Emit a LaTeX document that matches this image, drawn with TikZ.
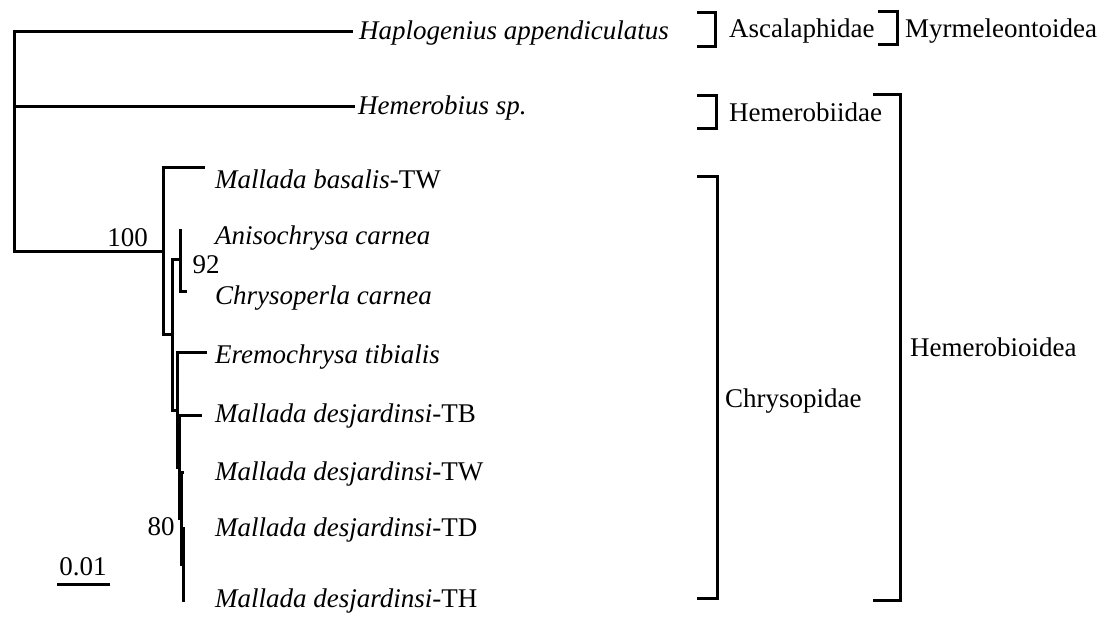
\documentclass[tikz,border=0pt]{standalone}
\usepackage{fontspec}
\setmainfont{Liberation Serif}
\begin{document}
\begin{tikzpicture}[x=1pt,y=-1pt,
  edge/.style={line width=3pt},
  brk/.style={line width=3pt},
  taxon/.style={anchor=west,inner sep=0pt,font=\fontsize{27}{31}\selectfont\itshape},
  grp/.style={anchor=west,inner sep=0pt,font=\fontsize{27}{31}\selectfont},
  supp/.style={inner sep=0pt,font=\fontsize{27}{31}\selectfont}]
\useasboundingbox[fill=white] (0,0) rectangle (1105,617);
% tree coordinates
\coordinate (root) at (14,142);
\coordinate (hap) at (353,32);
\coordinate (hem) at (355,107);
\coordinate (A) at (163.3,252);
\coordinate (bas) at (205,168);
\coordinate (C) at (172.7,335);
\coordinate (N92) at (180.7,260);
\coordinate (ani) at (180.7,229);
\coordinate (chr) at (187,292);
\coordinate (D) at (177.3,410);
\coordinate (ere) at (206.7,352.7);
\coordinate (E) at (179,467);
\coordinate (tb) at (202,415);
\coordinate (F) at (181.2,518);
\coordinate (tw) at (184,472);
\coordinate (G) at (183.5,564);
\coordinate (td) at (185,528);
\coordinate (th) at (185,600);
% edges
\draw[edge] (root) |- (hap);
\draw[edge] (root) |- (hem);
\draw[edge] (root) |- (A);
\draw[edge] (A) |- (bas);
\draw[edge] (A) |- (C);
\draw[edge] (C) |- (N92);
\draw[edge] (C) |- (D);
\draw[edge] (N92) |- (ani);
\draw[edge] (N92) |- (chr);
\draw[edge] (D) |- (ere);
\draw[edge] (D) |- (E);
\draw[edge] (E) |- (tb);
\draw[edge] (E) |- (F);
\draw[edge] (F) |- (tw);
\draw[edge] (F) |- (G);
\draw[edge] (G) |- (td);
\draw[edge] (G) |- (th);
% support values
\node[supp,anchor=east] (s100) at (148,238) {100};
\node[supp] (s92) at (206,265) {92};
\node[supp] (s80) at (161,527) {80};
% taxa
\node[taxon] (lhap) at (359,33) {Haplogenius appendiculatus};
\node[taxon] (lhem) at (358,108) {Hemerobius sp.};
\node[taxon] (lbas) at (215,179) {Mallada basalis\upshape-TW};
\node[taxon] (lani) at (215,238) {Anisochrysa carnea};
\node[taxon] (lchr) at (215,298) {Chrysoperla carnea};
\node[taxon] (lere) at (215,357) {Eremochrysa tibialis};
\node[taxon] (ltb) at (215,416) {Mallada desjardinsi\upshape-TB};
\node[taxon] (ltw) at (215,474) {Mallada desjardinsi\upshape-TW};
\node[taxon] (ltd) at (215,530) {Mallada desjardinsi\upshape-TD};
\node[taxon] (lth) at (215,601) {Mallada desjardinsi\upshape-TH};
% scale bar
\coordinate (sb1) at (57,584);
\coordinate (sb2) at (110,584);
\draw[brk] (sb1) -- (sb2);
\node[supp] (sbl) at (83,567) {0.01};
% group brackets
\draw[brk] (697,13) -- (715,13) -- (715,47) -- (697,47);
\node[grp] (asc) at (729,31) {Ascalaphidae};
\draw[brk] (878,12) -- (897,12) -- (897,45) -- (878,45);
\node[grp] (myr) at (905,31) {Myrmeleontoidea};
\draw[brk] (697,96) -- (716,96) -- (716,129) -- (697,129);
\node[grp] (hmb) at (729,112) {Hemerobiidae};
\draw[brk] (697,177) -- (717,177) -- (717,598) -- (697,598);
\node[grp] (chy) at (725,401) {Chrysopidae};
\draw[brk] (873,95) -- (900,95) -- (900,600) -- (873,600);
\node[grp] (hmd) at (910,347) {Hemerobioidea};
\end{tikzpicture}
\end{document}
